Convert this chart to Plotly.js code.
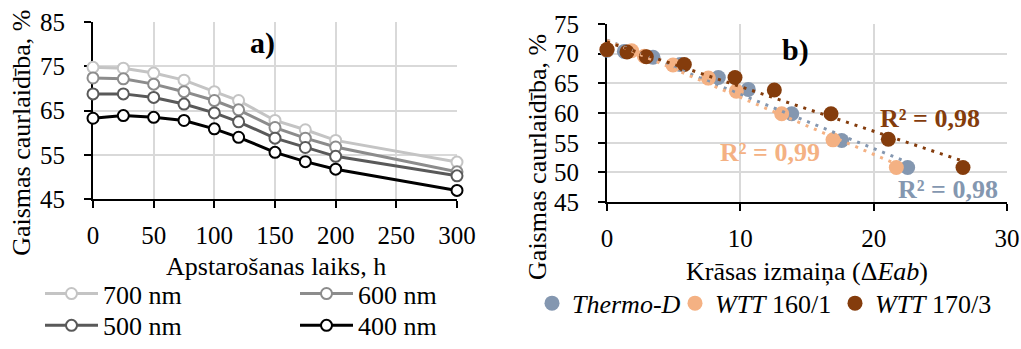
<!DOCTYPE html>
<html>
<head>
<meta charset="utf-8">
<script src="https://cdn.plot.ly/plotly-3.0.1.min.js"></script>
<style>
  html, body { margin: 0; padding: 0; background: #ffffff; }
  #chart { width: 1021px; height: 349px; }
</style>
</head>
<body>
<div id="chart"></div>
<script>
// a) light transmittance over irradiation time, per wavelength
const hours = [0, 25, 50, 75, 100, 120, 150, 175, 200, 300];
const t700 = [74.8, 74.6, 73.5, 71.9, 69.3, 67.3, 62.8, 60.7, 58.3, 53.4];
const t600 = [72.4, 72.2, 71.0, 69.3, 67.3, 65.2, 61.2, 58.8, 56.8, 51.2];
const t500 = [68.8, 68.8, 68.0, 66.5, 64.5, 62.5, 58.8, 56.7, 54.7, 50.3];
const t400 = [63.3, 63.9, 63.5, 62.8, 60.9, 59.0, 55.6, 53.5, 51.8, 47.0];
const waveLabels = ['700 nm', '600 nm', '500 nm', '400 nm'];

// b) light transmittance against colour change (ΔEab), per coating
const thermoDE = [0, 1.3, 3.45, 5.5, 8.35, 10.6, 13.85, 17.6, 22.55];
const thermoT  = [70.6, 70.4, 69.4, 68.2, 66.0, 64.0, 59.9, 55.4, 50.85];
const wtt160DE = [0, 1.85, 2.8, 4.95, 7.6, 9.7, 13.1, 16.95, 21.7];
const wtt160T  = [70.7, 70.5, 69.6, 68.1, 65.9, 63.7, 59.9, 55.5, 50.85];
const wtt170DE = [0, 1.5, 2.95, 5.8, 9.6, 12.55, 16.8, 21.1, 26.7];
const wtt170T  = [70.7, 70.3, 69.5, 68.2, 66.0, 63.9, 59.9, 55.6, 50.85];
const coatingLabels = ['<i>Thermo-D</i>', '<i>WTT</i> 160/1', '<i>WTT</i> 170/3'];
const r2Labels = ['R² = 0,98', 'R² = 0,99', 'R² = 0,98'];
// where each R² label sits, in the right panel's data units
const r2X = [25.6, 12.2, 24.2];
const r2Y = [47.1, 53.4, 59.1];

const W = 1021, H = 349;
const px = v => v / W;
const py = v => 1 - v / H;
const FONT = 'Liberation Serif, Times New Roman, serif';

// least-squares straight line over the x extent of a series
function trend(xs, ys) {
  const n = xs.length;
  const mx = xs.reduce((a, b) => a + b, 0) / n;
  const my = ys.reduce((a, b) => a + b, 0) / n;
  let sxy = 0, sxx = 0;
  for (let i = 0; i < n; i++) { sxy += (xs[i] - mx) * (ys[i] - my); sxx += (xs[i] - mx) ** 2; }
  const k = sxy / sxx, b = my - k * mx;
  const x0 = Math.min(...xs), x1 = Math.max(...xs);
  return { x: [x0, x1], y: [k * x0 + b, k * x1 + b] };
}

const waveSeries = [t700, t600, t500, t400];
const waveColors = ['#c4c4c4', '#8c8c8c', '#595959', '#000000'];
const waveLegends = ['legend', 'legend', 'legend3', 'legend3'];

const traces = [];
waveSeries.forEach((ys, i) => {
  traces.push({
    type: 'scatter', mode: 'lines+markers', x: hours, y: ys,
    name: waveLabels[i], legend: waveLegends[i],
    xaxis: 'x', yaxis: 'y', cliponaxis: false,
    line: { color: waveColors[i], width: 3 },
    marker: { symbol: 'circle', size: 11, color: '#ffffff', line: { color: waveColors[i], width: 2 } },
    hoverinfo: 'x+y'
  });
});

const coatX = [thermoDE, wtt160DE, wtt170DE];
const coatY = [thermoT, wtt160T, wtt170T];
const coatColors = ['#8497b0', '#f4b183', '#843c0c'];
const coatLegendWidth = [98, 115, undefined];

coatX.forEach((xs, i) => {
  const tr = {
    type: 'scatter', mode: 'markers', x: xs, y: coatY[i],
    name: coatingLabels[i], legend: 'legend2',
    xaxis: 'x2', yaxis: 'y2', cliponaxis: false,
    marker: { symbol: 'circle', size: 15, color: coatColors[i] },
    hoverinfo: 'x+y'
  };
  if (coatLegendWidth[i]) tr.legendwidth = coatLegendWidth[i];
  traces.push(tr);
});
coatX.forEach((xs, i) => {
  const t = trend(xs, coatY[i]);
  traces.push({
    type: 'scatter', mode: 'lines', x: t.x, y: t.y,
    showlegend: false, xaxis: 'x2', yaxis: 'y2', cliponaxis: false,
    line: { color: coatColors[i], width: 3, dash: '3px,6px' },
    hoverinfo: 'skip'
  });
});

const axisBase = {
  showline: true, linecolor: '#000000', linewidth: 2,
  ticks: 'outside', ticklen: 7, tickwidth: 2, tickcolor: '#000000',
  showgrid: true, gridcolor: '#d9d9d9', gridwidth: 2,
  zeroline: false, layer: 'below traces', fixedrange: true,
  tickfont: { family: FONT, size: 25, color: '#000000' }
};

const legendBase = {
  orientation: 'h', xanchor: 'left', yanchor: 'middle',
  bgcolor: 'rgba(0,0,0,0)', borderwidth: 0,
  font: { family: FONT, size: 26, color: '#000000' },
  itemclick: false, itemdoubleclick: false, traceorder: 'normal'
};

const ann = (text, x, y, opts) => Object.assign({
  text, x: px(x), y: py(y), xref: 'paper', yref: 'paper',
  xanchor: 'center', yanchor: 'middle', showarrow: false,
  font: { family: FONT, size: 26, color: '#000000' }
}, opts || {});

const annotations = [
  ann('<b>a)</b>', 262, 45, { font: { family: FONT, size: 30, color: '#000000' } }),
  ann('<b>b)</b>', 795, 52, { font: { family: FONT, size: 30, color: '#000000' } }),
  ann('Gaismas caurlaidība, %', 22, 138, { textangle: -90 }),
  ann('Gaismas caurlaidība, %', 538, 163, { textangle: -90 }),
  ann('Apstarošanas laiks, h', 276, 277),
  ann('Krāsas izmaiņa (Δ<i>Eab</i>)', 807, 282)
];
r2Labels.forEach((txt, i) => {
  annotations.push({
    text: '<b>' + txt + '</b>', x: r2X[i], y: r2Y[i], xref: 'x2', yref: 'y2',
    xanchor: 'center', yanchor: 'middle', showarrow: false,
    font: { family: FONT, size: 26, color: coatColors[i] }
  });
});

const layout = {
  width: W, height: H,
  margin: { l: 0, r: 0, t: 0, b: 0, pad: 0 },
  paper_bgcolor: '#ffffff', plot_bgcolor: 'rgba(0,0,0,0)',
  font: { family: FONT, size: 25, color: '#000000' },
  showlegend: true,
  xaxis: Object.assign({}, axisBase, {
    domain: [px(93), px(457)], range: [0, 300], tick0: 0, dtick: 50,
    anchor: 'y', ticklabelstandoff: 6
  }),
  yaxis: Object.assign({}, axisBase, {
    domain: [py(207), py(23)], range: [45, 85], tick0: 45, dtick: 10,
    anchor: 'x', ticklabelstandoff: 14
  }),
  xaxis2: Object.assign({}, axisBase, {
    domain: [px(607), px(1007)], range: [0, 30], tick0: 0, dtick: 10,
    anchor: 'y2', ticklabelstandoff: 6
  }),
  yaxis2: Object.assign({}, axisBase, {
    domain: [py(210), py(25)], range: [45, 75], tick0: 45, dtick: 5,
    anchor: 'x2', ticklabelstandoff: 14
  }),
  legend: Object.assign({}, legendBase, { x: px(40), y: py(305), itemwidth: 53, entrywidth: 187 }),
  legend3: Object.assign({}, legendBase, { x: px(40), y: py(338), itemwidth: 53, entrywidth: 187 }),
  legend2: Object.assign({}, legendBase, { x: px(532), y: py(315) }),
  annotations
};

Plotly.newPlot('chart', traces, layout, { displayModeBar: false, staticPlot: true });
</script>
</body>
</html>
